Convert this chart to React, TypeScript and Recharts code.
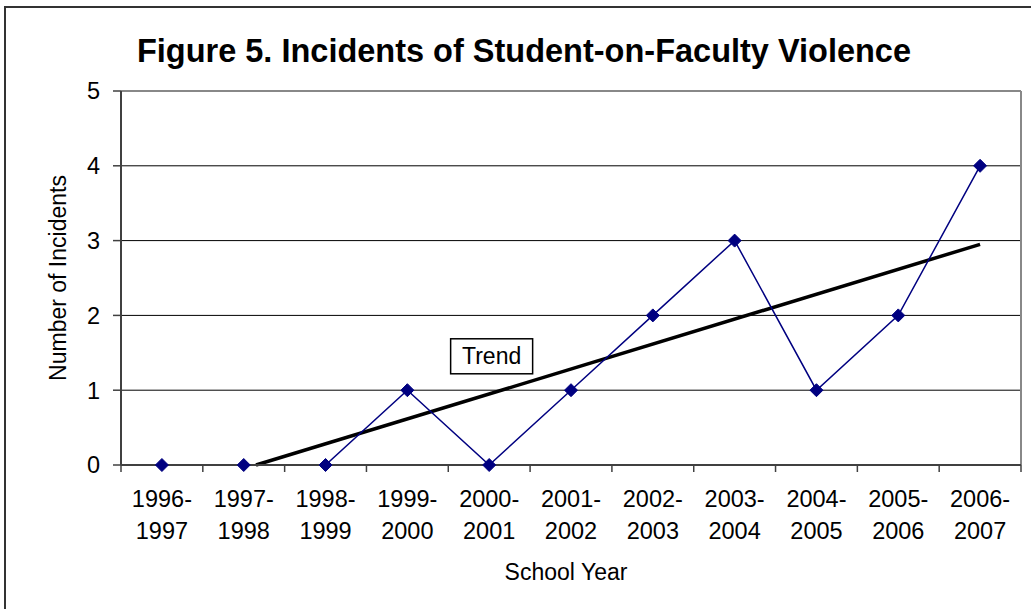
import React from 'react';
import {
  ComposedChart,
  Line,
  XAxis,
  YAxis,
  CartesianGrid,
  ReferenceLine,
  ReferenceDot,
} from 'recharts';

const schoolYears = [
  '1996-1997',
  '1997-1998',
  '1998-1999',
  '1999-2000',
  '2000-2001',
  '2001-2002',
  '2002-2003',
  '2003-2004',
  '2004-2005',
  '2005-2006',
  '2006-2007',
];
const categoryIndex = [0, 1, 2, 3, 4, 5, 6, 7, 8, 9, 10];
const incidents = [0, 0, 0, 1, 0, 1, 2, 3, 1, 2, 4];

// trend line end points
const trendX = [1.15, 10];
const trendY = [0, 2.95];

const yTicks = [0, 1, 2, 3, 4, 5];
const categoryBoundaries = [-0.5, 0.5, 1.5, 2.5, 3.5, 4.5, 5.5, 6.5, 7.5, 8.5, 9.5, 10.5];
const xDomain = [-0.5, 10.5];

const data = categoryIndex.map((idx, i) => ({
  idx,
  label: schoolYears[i],
  incidents: incidents[i],
}));
const trendData = trendX.map((x, i) => ({ idx: x, trend: trendY[i] }));

const FONT = '"Liberation Sans", Arial, sans-serif';
const NAVY = '#000080';

const XTick = (props: any) => {
  const { x, y, payload } = props;
  const label = schoolYears[payload.value] || '';
  const [a, b] = label.split('-');
  return (
    <g>
      <text x={x} y={y} textAnchor="middle" fontFamily={FONT} fontSize={23.5} fill="#000">
        <tspan x={x} dy={33}>{a}-</tspan>
        <tspan x={x} dy={32}>{b}</tspan>
      </text>
    </g>
  );
};

const Diamond = (props: any) => {
  const { cx, cy } = props;
  if (cx == null || cy == null) return null;
  const r = 6.5;
  return (
    <path
      d={`M${cx},${cy - r}L${cx + r},${cy}L${cx},${cy + r}L${cx - r},${cy}Z`}
      fill={NAVY}
      stroke={NAVY}
    />
  );
};

const TrendBox = (props: any) => {
  const { cx, cy } = props;
  return (
    <g>
      <rect x={cx - 41} y={cy - 17} width={82} height={35} fill="#fff" stroke="#000" strokeWidth={1.5} />
      <text x={cx} y={cy + 8} textAnchor="middle" fontFamily={FONT} fontSize={23} fill="#000">
        Trend
      </text>
    </g>
  );
};

const YLabel = (props: any) => {
  const { viewBox } = props;
  const x = viewBox.x + 58;
  const y = viewBox.y + viewBox.height / 2;
  return (
    <text
      x={x}
      y={y}
      transform={`rotate(-90, ${x}, ${y})`}
      textAnchor="middle"
      dominantBaseline="central"
      fontFamily={FONT}
      fontSize={23}
      fill="#000"
    >
      Number of Incidents
    </text>
  );
};

const XLabel = (props: any) => {
  const { viewBox } = props;
  const x = viewBox.x + viewBox.width / 2 - 5;
  const y = 580;
  return (
    <text x={x} y={y} textAnchor="middle" fontFamily={FONT} fontSize={23} fill="#000">
      School Year
    </text>
  );
};

export default function App() {
  return (
    <div
      style={{
        position: 'absolute',
        left: 0,
        top: 0,
        width: 1031,
        height: 609,
        overflow: 'hidden',
        background: '#fff',
      }}
    >
      <div
        style={{
          position: 'absolute',
          left: 4,
          top: 6,
          width: 1060,
          height: 640,
          border: '2px solid #333',
          boxSizing: 'border-box',
        }}
      />
      <div
        style={{
          position: 'absolute',
          left: 17,
          width: 1014,
          top: 35,
          textAlign: 'center',
          fontFamily: FONT,
          fontWeight: 'bold',
          fontSize: 32.5,
          lineHeight: '32px',
          color: '#000',
          whiteSpace: 'nowrap',
        }}
      >
        Figure 5. Incidents of Student-on-Faculty Violence
      </div>
      <div style={{ position: 'absolute', left: 0, top: 0 }}>
        <ComposedChart
          width={1031}
          height={609}
          data={data}
          margin={{ top: 91, right: 10, left: 0, bottom: 0 }}
        >
          <CartesianGrid vertical={false} stroke="#000" strokeWidth={1} />
          <XAxis
            xAxisId="bnd"
            dataKey="idx"
            type="number"
            domain={xDomain}
            ticks={categoryBoundaries}
            interval={0}
            allowDataOverflow
            height={7}
            tickSize={7}
            tick={() => <g />}
            stroke="#404040"
            axisLine={{ stroke: '#404040', strokeWidth: 2 }}
            tickLine={{ stroke: '#404040', strokeWidth: 1.5 }}
          />
          <XAxis
            xAxisId="lab"
            dataKey="idx"
            type="number"
            domain={xDomain}
            ticks={categoryIndex}
            interval={0}
            allowDataOverflow
            height={137}
            tickLine={false}
            axisLine={false}
            tickSize={0}
            tick={<XTick />}
            label={<XLabel />}
          />
          <YAxis
            type="number"
            domain={[0, 5]}
            ticks={yTicks}
            interval={0}
            width={121}
            tickSize={8}
            tickMargin={13}
            axisLine={{ stroke: '#404040', strokeWidth: 2 }}
            tickLine={{ stroke: '#404040', strokeWidth: 1.5 }}
            tick={{ fontFamily: FONT, fontSize: 23.5, fill: '#000' }}
            label={<YLabel />}
          />
          <ReferenceLine xAxisId="bnd" y={5} stroke="#888" strokeWidth={2} />
          <ReferenceLine xAxisId="bnd" x={10.5} stroke="#888" strokeWidth={2} />
          <Line
            xAxisId="bnd"
            dataKey="trend"
            data={trendData}
            stroke="#000"
            strokeWidth={3.5}
            dot={false}
            activeDot={false}
            isAnimationActive={false}
          />
          <Line
            xAxisId="bnd"
            dataKey="incidents"
            stroke={NAVY}
            strokeWidth={1.5}
            dot={<Diamond />}
            activeDot={false}
            isAnimationActive={false}
          />
          <ReferenceDot xAxisId="bnd" x={4.03} y={1.46} r={0} shape={<TrendBox />} />
        </ComposedChart>
      </div>
    </div>
  );
}
